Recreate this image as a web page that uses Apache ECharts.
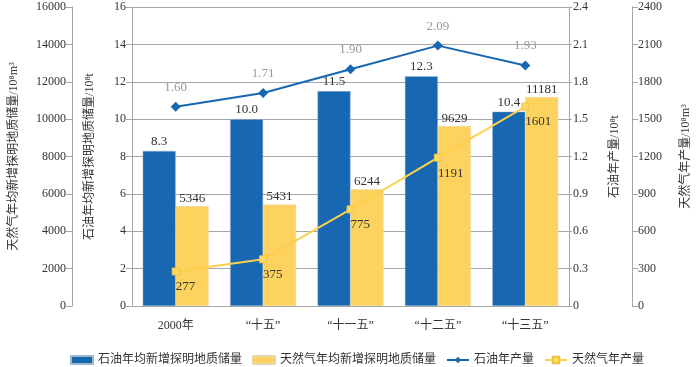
<!DOCTYPE html>
<html>
<head>
<meta charset="utf-8">
<script src="https://cdn.jsdelivr.net/npm/echarts@6/dist/echarts.min.js"></script>
<style>
  html, body { margin: 0; padding: 0; background: #fff; }
  #chart { width: 700px; height: 367px; }
</style>
</head>
<body>
<div id="chart"></div>
<script>
// 阶段
const periods = ["2000年", "“十五”", "“十一五”", "“十二五”", "“十三五”"];
// 石油年均新增探明地质储量 / 10^8 t
const oilReserves = [8.3, 10.0, 11.5, 12.3, 10.4];
// 天然气年均新增探明地质储量 / 10^8 m3
const gasReserves = [5346, 5431, 6244, 9629, 11181];
// 石油年产量 / 10^8 t
const oilOutput = [1.60, 1.71, 1.90, 2.09, 1.93];
// 天然气年产量 / 10^8 m3
const gasOutput = [277, 375, 775, 1191, 1601];

const FONT = "'Liberation Serif', 'Noto Sans CJK SC', serif";
const AXIS_GRAY = "#a6a6a6";
const BLUE = "#1767b2";
const YELLOW = "#fdd25e";

const chart = echarts.init(document.getElementById("chart"));

function valueAxis(opts) {
  return Object.assign({
    type: "value",
    nameLocation: "middle",
    nameRotate: 90,
    nameTextStyle: { fontFamily: FONT, fontSize: 12, color: "#333" },
    axisLine: { show: true, lineStyle: { color: AXIS_GRAY } },
    axisTick: { show: true, length: 6, lineStyle: { color: AXIS_GRAY } },
    axisLabel: {
      fontFamily: FONT, fontSize: 12, color: "#333", margin: 6,
      formatter: (v) => String(v)
    },
    splitLine: { show: false }
  }, opts);
}

const option = {
  animation: false,
  textStyle: { fontFamily: FONT },
  grid: { left: 125, right: 118, top: 7, bottom: 61 },
  legend: {
    top: 349,
    left: 65,
    itemWidth: 22,
    itemHeight: 8,
    itemGap: 10,
    textStyle: { fontFamily: FONT, fontSize: 12, color: "#333" },
    data: [
      { name: "石油年均新增探明地质储量", icon: "rect" },
      { name: "天然气年均新增探明地质储量", icon: "rect" },
      "石油年产量",
      "天然气年产量"
    ]
  },
  xAxis: {
    type: "category",
    data: periods,
    axisLine: { lineStyle: { color: AXIS_GRAY } },
    axisTick: { show: false },
    axisLabel: { fontFamily: FONT, fontSize: 12, color: "#333", margin: 14 }
  },
  yAxis: [
    valueAxis({
      position: "left",
      offset: 60,
      min: 0, max: 16000, interval: 2000,
      name: "天然气年均新增探明地质储量/10⁸m³",
      nameGap: 52
    }),
    valueAxis({
      position: "left",
      min: 0, max: 16, interval: 2,
      name: "石油年均新增探明地质储量/10⁸t",
      nameGap: 36,
      splitLine: { show: true, lineStyle: { color: AXIS_GRAY } }
    }),
    valueAxis({
      position: "right",
      min: 0, max: 2.4, interval: 0.3,
      name: "石油年产量/10⁸t",
      nameGap: 40,
      axisTick: { show: true, length: 3, lineStyle: { color: AXIS_GRAY } },
      axisLabel: {
        fontFamily: FONT, fontSize: 12, color: "#333", margin: 4,
        formatter: (v) => (v === 0 ? "0" : v.toFixed(1))
      }
    }),
    valueAxis({
      position: "right",
      offset: 63,
      min: 0, max: 2400, interval: 300,
      name: "天然气年产量/10⁸m³",
      nameGap: 48
    })
  ],
  series: [
    {
      name: "石油年均新增探明地质储量",
      type: "bar",
      yAxisIndex: 1,
      data: oilReserves,
      barWidth: 33,
      barGap: "0%",
      itemStyle: { color: BLUE, borderColor: "#9fb7cf", borderWidth: 0.5 },
      label: {
        show: true, position: "top", distance: 3,
        fontFamily: FONT, fontSize: 13, color: "#333",
        formatter: (p) => p.value.toFixed(1)
      }
    },
    {
      name: "天然气年均新增探明地质储量",
      type: "bar",
      yAxisIndex: 0,
      data: gasReserves,
      barWidth: 33,
      barGap: "0%",
      itemStyle: { color: YELLOW, borderColor: "#e6d9b0", borderWidth: 0.5 },
      label: {
        show: true, position: "top", distance: 1,
        fontFamily: FONT, fontSize: 13, color: "#333"
      }
    },
    {
      name: "石油年产量",
      type: "line",
      yAxisIndex: 2,
      data: oilOutput,
      symbol: "diamond",
      symbolSize: 10,
      lineStyle: { color: BLUE, width: 2 },
      itemStyle: { color: BLUE },
      label: {
        show: true, position: "top", distance: 8,
        fontFamily: FONT, fontSize: 13, color: "#999",
        formatter: (p) => p.value.toFixed(2)
      },
      z: 5
    },
    {
      name: "天然气年产量",
      type: "line",
      yAxisIndex: 3,
      data: gasOutput,
      symbol: "rect",
      symbolSize: 7,
      lineStyle: { color: "#fcd04c", width: 2 },
      itemStyle: { color: "#fdd866", borderColor: "#f0c43a", borderWidth: 1 },
      label: {
        show: true, position: "bottom", align: "left", distance: 5,
        fontFamily: FONT, fontSize: 13, color: "#333"
      },
      z: 5
    }
  ]
};

chart.setOption(option);
</script>
</body>
</html>
